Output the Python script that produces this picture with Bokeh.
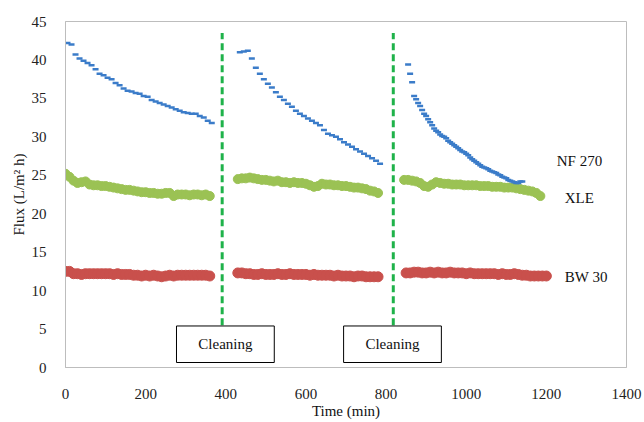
from bokeh.plotting import figure
from bokeh.models import Range1d, FixedTicker, Label
from bokeh.embed import file_html
from bokeh.resources import INLINE

# ---- data ----
# NF 270 (blue) segments: start time, step (min), flux values
nf_starts = [5, 435, 855]
nf_steps = [10, 10, 5]
nf_seg1 = [42.2, 42.0, 40.7, 40.2, 39.9, 39.6, 39.3, 38.8, 38.2, 38.0, 37.7, 37.5, 37.0,
           36.7, 36.3, 36.0, 35.9, 35.7, 35.6, 35.3, 35.2, 34.8, 34.6, 34.4, 34.2, 34.0,
           33.8, 33.6, 33.4, 33.2, 33.1, 33.0, 33.0, 32.7, 32.5, 32.1, 31.8]
nf_seg2 = [41.0, 41.1, 41.2, 40.2, 39.0, 38.2, 37.5, 36.9, 36.4, 35.8, 35.2, 34.8, 34.3,
           33.9, 33.4, 33.0, 32.7, 32.4, 32.1, 31.8, 31.5, 30.9, 30.4, 30.2, 30.0, 29.7,
           29.3, 29.0, 28.7, 28.4, 28.1, 27.8, 27.5, 27.2, 26.9, 26.5]
nf_seg3 = [39.4, 38.2, 37.1, 35.3, 34.9, 34.4, 34.0, 33.5, 33.0, 32.7, 32.3, 31.9, 31.5,
           31.1, 30.8, 30.6, 30.3, 30.1, 30.0, 29.8, 29.5, 29.3, 29.1, 28.9, 28.7, 28.5,
           28.3, 28.1, 28.0, 27.8, 27.6, 27.3, 27.1, 26.9, 26.7, 26.5, 26.3, 26.1, 26.0,
           25.9, 25.8, 25.6, 25.5, 25.4, 25.3, 25.1, 25.0, 24.8, 24.7, 24.6, 24.4, 24.3,
           24.2, 24.1, 24.0, 24.0, 24.2, 24.2]

# XLE (green)
xle_starts = [0, 430, 845]
xle_steps = [10, 10, 10]
xle_seg1 = [25.2, 24.8, 24.3, 24.0, 24.1, 24.2, 23.8, 23.7, 23.7, 23.6, 23.6, 23.5, 23.4,
            23.3, 23.2, 23.1, 23.1, 23.0, 22.9, 22.8, 22.8, 22.7, 22.7, 22.6, 22.6, 22.7,
            22.7, 22.3, 22.5, 22.5, 22.5, 22.4, 22.5, 22.5, 22.4, 22.5, 22.3]
xle_seg2 = [24.5, 24.6, 24.6, 24.7, 24.6, 24.5, 24.4, 24.4, 24.3, 24.2, 24.3, 24.1, 24.1,
            24.0, 24.1, 24.0, 24.0, 23.9, 23.7, 23.5, 23.6, 23.9, 23.8, 23.8, 23.7, 23.7,
            23.6, 23.6, 23.5, 23.4, 23.4, 23.3, 23.2, 23.0, 22.9, 22.7]
xle_seg3 = [24.4, 24.4, 24.3, 24.2, 24.0, 23.6, 23.5, 23.8, 24.1, 24.0, 23.9, 23.9, 23.8,
            23.8, 23.8, 23.7, 23.7, 23.7, 23.7, 23.6, 23.6, 23.6, 23.5, 23.5, 23.5, 23.4,
            23.4, 23.4, 23.3, 23.2, 23.1, 23.0, 22.9, 22.7, 22.3]

# BW 30 (red)
bw_starts = [0, 430, 850]
bw_steps = [10, 10, 10]
bw_seg1 = [12.5, 12.5, 12.2, 12.2, 12.1, 12.2, 12.2, 12.2, 12.2, 12.2, 12.2, 12.2, 12.1,
           12.2, 12.1, 12.1, 12.1, 12.0, 12.0, 11.9, 12.0, 11.9, 12.0, 11.9, 11.8, 11.9,
           12.0, 11.9, 12.0, 12.0, 12.0, 12.0, 12.0, 12.0, 12.0, 12.0, 11.9]
bw_seg2 = [12.3, 12.3, 12.2, 12.2, 12.1, 12.1, 12.2, 12.1, 12.1, 12.1, 12.2, 12.1, 12.1,
           12.2, 12.1, 12.1, 12.1, 12.1, 12.0, 12.1, 12.0, 12.0, 12.0, 12.0, 11.9, 12.0,
           11.9, 11.9, 11.9, 11.8, 11.9, 11.9, 11.8, 11.8, 11.8, 11.8]
bw_seg3 = [12.3, 12.3, 12.4, 12.4, 12.3, 12.3, 12.4, 12.3, 12.4, 12.3, 12.3, 12.4, 12.3,
           12.3, 12.3, 12.2, 12.3, 12.2, 12.2, 12.2, 12.2, 12.2, 12.2, 12.1, 12.2, 12.1,
           12.1, 12.2, 12.1, 12.0, 12.0, 11.9, 11.9, 11.9, 11.9, 11.9]

cleaning_times = [391, 818]
cleaning_y = [5.5, 43.5]
box_centers = [399, 816]
box_width = 244
box_y = [0.65, 5.4]
box_label = "Cleaning"

series_labels = ["NF 270", "XLE", "BW 30"]
series_label_x = [1226, 1246, 1246]
series_label_y = [26.9, 22.1, 11.75]

x_ticks = [0, 200, 400, 600, 800, 1000, 1200, 1400]
y_ticks = [0, 5, 10, 15, 20, 25, 30, 35, 40, 45]
x_title = "Time (min)"
y_title = "Flux (L/m\u00b2 h)"

FONT = "Liberation Serif"
W, H = 642, 421
FL, FB = 65, 367  # frame left / bottom on the page


def expand(starts, steps, segs):
    xs, ys = [], []
    for s, st, vals in zip(starts, steps, segs):
        for i, v in enumerate(vals):
            xs.append(s + st * i)
            ys.append(v)
    return xs, ys


p = figure(width=W, height=H, output_backend="svg", toolbar_location=None,
           x_range=Range1d(0, 1400), y_range=Range1d(0, 45),
           min_border_left=FL, min_border_right=W - 626, min_border_top=21,
           min_border_bottom=H - FB)
p.background_fill_color = "white"
p.border_fill_color = "white"
p.outline_line_color = "#BDBDBD"
p.grid.visible = False

for ax in (p.xaxis[0], p.yaxis[0]):
    ax.axis_line_color = "#BDBDBD"
    ax.major_tick_line_color = None
    ax.minor_tick_line_color = None
    ax.major_label_text_font = FONT
    ax.major_label_text_font_size = "15px"
    ax.major_label_text_color = "#222222"
    ax.axis_label_text_font = FONT
    ax.axis_label_text_font_size = "15px"
    ax.axis_label_text_font_style = "normal"
    ax.axis_label_text_color = "#111111"

p.xaxis.ticker = FixedTicker(ticks=x_ticks)
p.yaxis.ticker = FixedTicker(ticks=y_ticks)
p.xaxis.axis_label = x_title
p.yaxis.axis_label = y_title
p.xaxis.major_label_standoff = 15
p.xaxis.axis_label_standoff = 1
p.yaxis.major_label_standoff = 13
p.yaxis.axis_label_standoff = 2

# Series
bx, by = expand(bw_starts, bw_steps, [bw_seg1, bw_seg2, bw_seg3])
p.scatter(bx, by, marker="circle", size=10, fill_color="#C9504C", line_color="#C9504C")

gx, gy = expand(xle_starts, xle_steps, [xle_seg1, xle_seg2, xle_seg3])
p.scatter(gx, gy, marker="circle", size=9, fill_color="#9BC254", line_color="#9BC254")

nx, ny = expand(nf_starts, nf_steps, [nf_seg1, nf_seg2, nf_seg3])
p.scatter(nx, ny, marker="dash", size=6, line_color="#3B7CC9", line_width=2.5)

# Cleaning dashed lines
for t in cleaning_times:
    p.line([t, t], cleaning_y, line_color="#1FB24A", line_width=3, line_dash="7 4")

# Cleaning boxes
for c in box_centers:
    p.quad(left=c - box_width / 2, right=c + box_width / 2, bottom=box_y[0], top=box_y[1],
           fill_color="white", line_color="black", line_width=1)
    p.add_layout(Label(x=c, y=(box_y[0] + box_y[1]) / 2, text=box_label,
                       text_font=FONT, text_font_size="15px", text_align="center",
                       text_baseline="middle", text_color="#111111"))

for lab, lx, ly in zip(series_labels, series_label_x, series_label_y):
    p.add_layout(Label(x=lx, y=ly, text=lab, text_font=FONT, text_font_size="15px",
                       text_align="left", text_baseline="middle", text_color="#111111"))

open("out.html", "w").write(file_html(p, INLINE))
